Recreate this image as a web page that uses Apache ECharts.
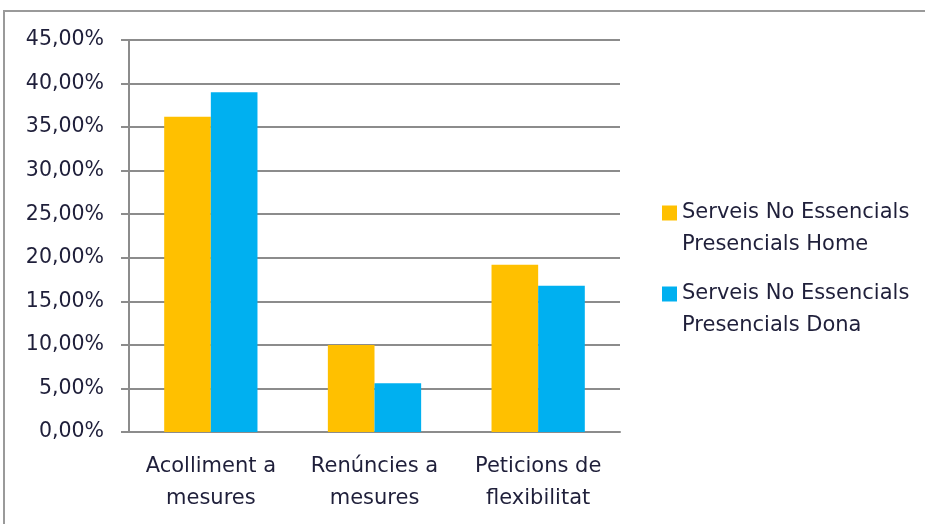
<!DOCTYPE html>
<html>
<head>
<meta charset="utf-8">
<script src="https://cdn.jsdelivr.net/npm/echarts@6/dist/echarts.min.js"></script>
<style>
  html, body { margin: 0; padding: 0; background: #fff; }
  #chart { width: 925px; height: 524px; }
</style>
</head>
<body>
<div id="chart"></div>
<script>
const categories = ['Acolliment a\nmesures', 'Renúncies a\nmesures', 'Peticions de\nflexibilitat']
const seriesNames = ['Serveis No Essencials\nPresencials Home', 'Serveis No Essencials\nPresencials Dona']
const homeValues = [36.2, 10.0, 19.2]
const donaValues = [39.0, 5.6, 16.8]

const textColor = '#1f1f3a'
const font = 'DejaVu Sans'

const chart = echarts.init(document.getElementById('chart'))

chart.setOption({
  animation: false,
  textStyle: { fontFamily: font },
  // outer frame
  graphic: [{
    type: 'rect',
    shape: { x: 4, y: 11, width: 1000, height: 600 },
    style: { fill: 'none', stroke: '#9a9a9a', lineWidth: 2 },
    silent: true
  }],
  legend: {
    orient: 'vertical',
    left: 662,
    top: 165,
    padding: 0,
    itemWidth: 15,
    itemHeight: 15,
    itemGap: -15,
    icon: 'rect',
    // leading empty line so the icon lines up with the first text line
    formatter: name => '\n' + name,
    textStyle: {
      color: textColor,
      fontSize: 21,
      fontFamily: font,
      lineHeight: 32
    },
    data: seriesNames
  },
  grid: {
    left: 129,
    right: 305,
    top: 40,
    bottom: 92
  },
  xAxis: {
    type: 'category',
    data: categories,
    axisLine: { lineStyle: { color: '#8c8c8c', width: 2 } },
    axisTick: { length: 8, lineStyle: { color: '#8c8c8c', width: 2 } },
    axisLabel: {
      color: textColor,
      fontSize: 21,
      fontFamily: font,
      lineHeight: 32,
      margin: 19,
      interval: 0
    }
  },
  yAxis: {
    type: 'value',
    min: 0,
    max: 45,
    interval: 5,
    axisLine: { show: true, lineStyle: { color: '#8c8c8c', width: 2 } },
    axisTick: { show: true, length: 8, lineStyle: { color: '#8c8c8c', width: 2 } },
    splitLine: { lineStyle: { color: '#8c8c8c', width: 2 } },
    axisLabel: {
      color: textColor,
      fontSize: 20.5,
      fontFamily: font,
      margin: 25,
      formatter: v => v.toFixed(2).replace('.', ',') + '%'
    }
  },
  series: [
    {
      name: seriesNames[0],
      type: 'bar',
      data: homeValues,
      itemStyle: { color: '#FFC000' },
      barGap: '0%',
      barCategoryGap: '43%'
    },
    {
      name: seriesNames[1],
      type: 'bar',
      data: donaValues,
      itemStyle: { color: '#00B0F0' },
      barGap: '0%',
      barCategoryGap: '43%'
    }
  ]
})
</script>
</body>
</html>
